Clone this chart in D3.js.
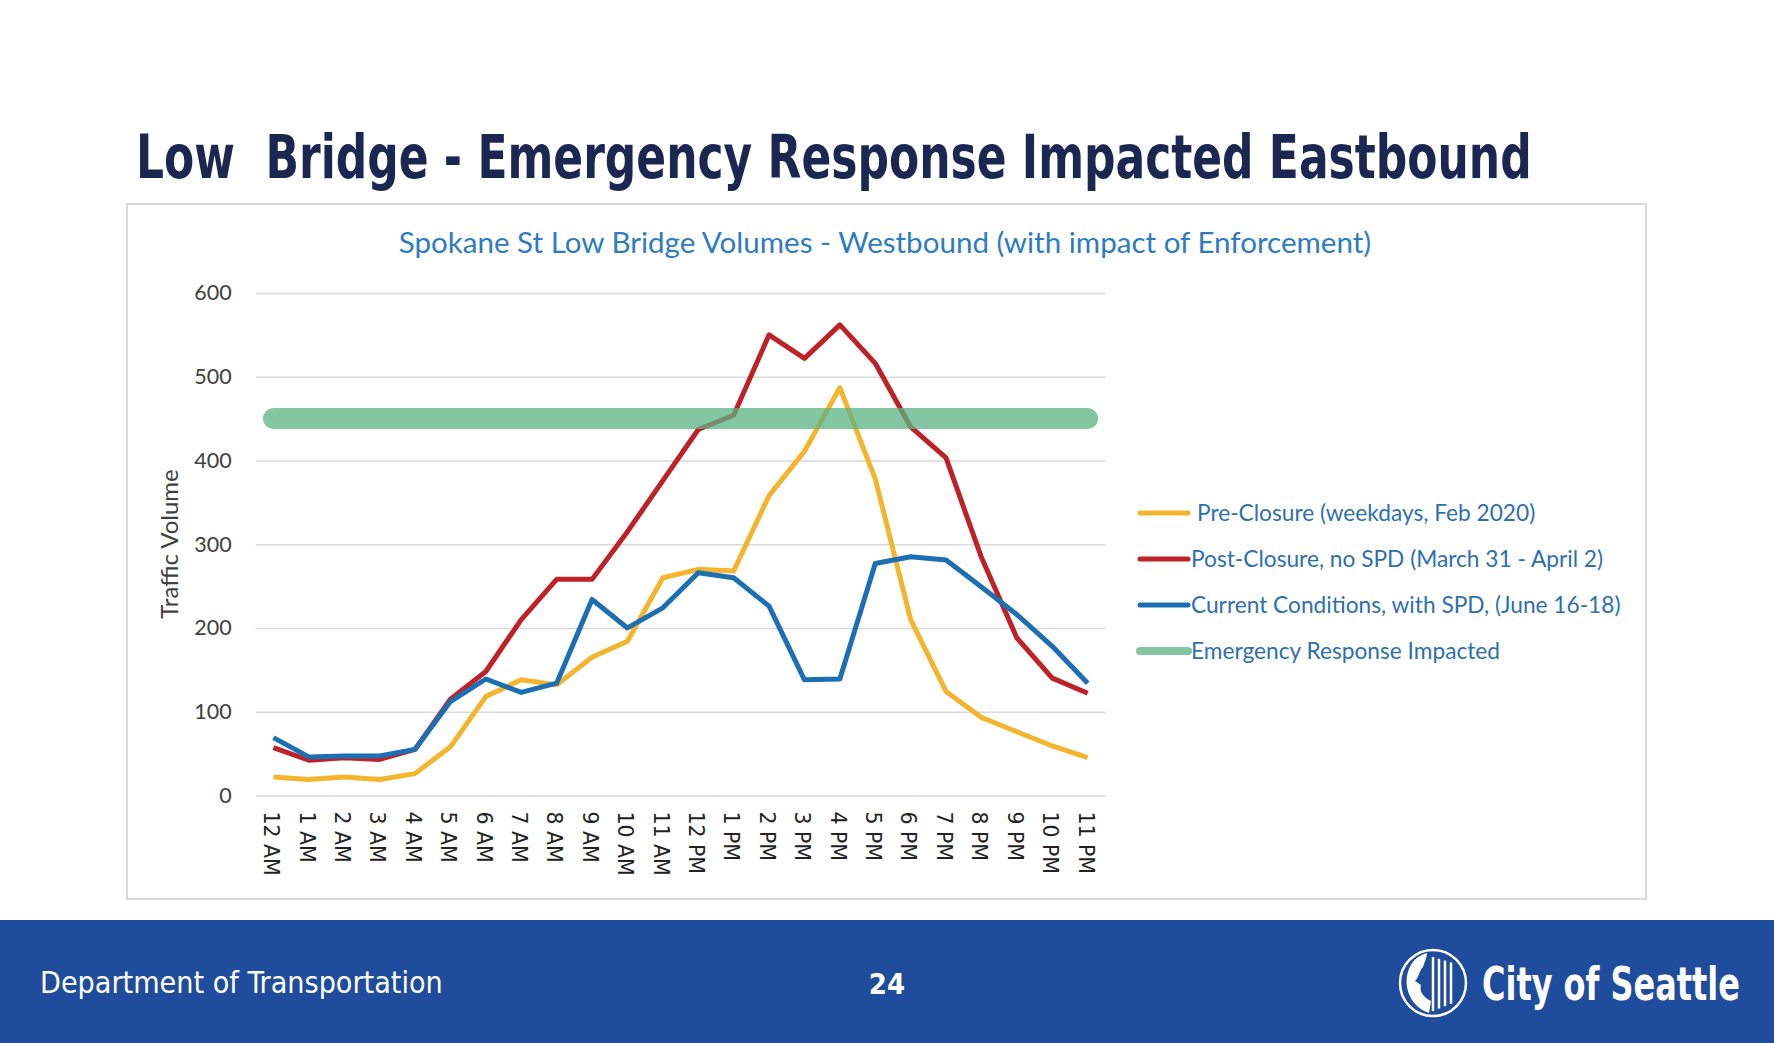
<!DOCTYPE html>
<html><head><meta charset="utf-8">
<script src="https://cdn.jsdelivr.net/npm/d3@7"></script>
<style>html,body{margin:0;padding:0;background:#fff;} svg{display:block;}</style>
</head><body>
<script>
const categories = ["12 AM","1 AM","2 AM","3 AM","4 AM","5 AM","6 AM","7 AM","8 AM","9 AM","10 AM","11 AM","12 PM","1 PM","2 PM","3 PM","4 PM","5 PM","6 PM","7 PM","8 PM","9 PM","10 PM","11 PM"];
const preClosure = [22,19,22,19,26,58,118,138,132,165,184,260,270,268,358,411,487,378,210,124,93,76,59,45];
const postClosure = [57,42,45,43,55,115,148,210,258,258,315,376,437,454,550,522,562,516,440,403,284,188,140,122];
const currentCond = [69,46,47,47,55,112,139,123,134,234,200,224,266,260,226,138,139,277,285,281,249,216,178,134];
const emergencyLevel = 450;
const yTicks = [0,100,200,300,400,500,600];
const seriesNames = ["Pre-Closure (weekdays, Feb 2020)","Post-Closure, no SPD (March 31 - April 2)","Current Conditions, with SPD, (June 16-18)","Emergency Response Impacted"];

(function(){
const W = 1774, H = 1043;
const svg = d3.select("body").append("svg").attr("width", W).attr("height", H);

function fit(sel, size, target){
  sel.attr("font-size", size);
  const len = sel.node().getComputedTextLength();
  if (len > 0) sel.attr("font-size", size * target / len);
  return sel;
}
// keep font height, squeeze horizontally to target width
function squeeze(sel, x0, y0, size, target){
  sel.attr("font-size", size).attr("x",0).attr("y",0);
  const len = sel.node().getComputedTextLength();
  const k = len > 0 ? Math.min(1, target/len) : 1;
  sel.attr("transform", `translate(${x0},${y0}) scale(${k},1)`);
  return sel;
}

// slide title
squeeze(svg.append("text")
  .style("white-space","pre")
  .attr("font-family","'DejaVu Sans Condensed','DejaVu Sans',sans-serif").attr("font-weight","bold")
  .attr("fill","#1b2750")
  .text("Low  Bridge - Emergency Response Impacted Eastbound"), 136, 178, 60, 1396);

// chart box
svg.append("rect").attr("x",127).attr("y",204).attr("width",1519).attr("height",695)
  .attr("fill","#fff").attr("stroke","#d9d9d9").attr("stroke-width",2);

// chart title
fit(svg.append("text").attr("x", 885).attr("y", 253).attr("text-anchor","middle")
  .attr("font-family","Lato, 'Open Sans', sans-serif").attr("fill","#2e7cc0")
  .text("Spokane St Low Bridge Volumes - Westbound (with impact of Enforcement)"), 27, 973);

const pLeft = 255.7, pRight = 1105.4, pTop = 293, pBottom = 795.4;
const x = d3.scaleBand().domain(categories).range([pLeft, pRight]);
const cx = d => x(d) + x.bandwidth()/2;
const y = d3.scaleLinear().domain([0,600]).range([pBottom, pTop]);

// gridlines
const yAxis = d3.axisLeft(y).tickValues(yTicks).tickSize(-(pRight-pLeft)).tickPadding(24);
const gy = svg.append("g").attr("transform",`translate(${pLeft},0)`).call(yAxis);
gy.select(".domain").remove();
gy.selectAll(".tick line").attr("stroke","#d9d9d9").attr("stroke-width",1.5);
gy.selectAll(".tick text").attr("font-family","Lato, 'Open Sans', sans-serif").attr("font-size",21.5).attr("fill","#404040").attr("x",-24);

// x axis labels
const xAxis = d3.axisBottom(x).tickSize(0).tickPadding(0);
const gx = svg.append("g").attr("transform",`translate(0,${pBottom})`).call(xAxis);
gx.select(".domain").remove();
gx.selectAll(".tick text")
  .attr("font-family","'DejaVu Sans', Verdana, sans-serif").attr("font-size",20.5).attr("fill","#222")
  .attr("text-anchor","start").attr("dy","0.35em")
  .attr("transform","translate(-2,16) rotate(90)").attr("x",0).attr("y",0);

// y axis title
svg.append("text").attr("transform",`translate(178,544) rotate(-90)`).attr("text-anchor","middle")
  .attr("font-family","Lato, 'Open Sans', sans-serif").attr("font-size",24).attr("fill","#404040")
  .text("Traffic Volume");

const line = d3.line().x((d,i)=>cx(categories[i])).y(d=>y(d));
const colors = ["#f3b52d","#be2228","#1d6fb3","#5cb383"];
[[preClosure,colors[0]],[postClosure,colors[1]],[currentCond,colors[2]]].forEach(([data,c])=>{
  svg.append("path").datum(data).attr("d",line).attr("fill","none")
    .attr("stroke",c).attr("stroke-width",5).attr("stroke-linejoin","round");
});
// emergency threshold band
svg.append("line")
  .attr("x1", cx(categories[0])).attr("x2", cx(categories[categories.length-1]))
  .attr("y1", y(emergencyLevel)).attr("y2", y(emergencyLevel))
  .attr("stroke",colors[3]).attr("stroke-opacity",0.75).attr("stroke-width",21).attr("stroke-linecap","round");

// legend
const legY = [513, 559, 605, 651];
seriesNames.forEach((n,i)=>{
  const g = svg.append("g");
  g.append("line").attr("x1",1140).attr("x2",1188).attr("y1",legY[i]).attr("y2",legY[i])
    .attr("stroke", i===3 ? "#85c6a2" : colors[i]).attr("stroke-width", i===3?8:5).attr("stroke-linecap","round");
  g.append("text").attr("x", i===0?1197:1191).attr("y",legY[i]).attr("dy","0.35em")
    .attr("font-family","Lato, 'Open Sans', sans-serif").attr("font-size",22.7).attr("fill","#2e6fae")
    .text(n);
});

// footer
svg.append("rect").attr("x",0).attr("y",920).attr("width",W).attr("height",H-920).attr("fill","#1f4c9c");
fit(svg.append("text").attr("x",40).attr("y",993)
  .attr("font-family","'DejaVu Sans Condensed','Open Sans',sans-serif").attr("fill","#fff")
  .text("Department of Transportation"), 30, 403);
svg.append("text").attr("x",887).attr("y",994).attr("text-anchor","middle")
  .attr("font-family","'DejaVu Sans Condensed','Open Sans',sans-serif").attr("font-weight","bold").attr("font-size",29).attr("fill","#fff")
  .text("24");
// logo
const lg = svg.append("g").attr("transform","translate(1433,983)");
lg.append("circle").attr("r",33).attr("fill","none").attr("stroke","#fff").attr("stroke-width",2.5);
lg.append("path").attr("d","M-6,-30 C-22,-26 -28,-10 -26,4 C-24,16 -16,26 -4,30 L-2,18 C-10,14 -14,8 -12,2 L-18,-2 C-14,-6 -14,-12 -10,-16 C-8,-22 -6,-26 -6,-30 Z").attr("fill","#fff");
[0,6,12,18].forEach(o=>lg.append("line").attr("x1",o).attr("x2",o).attr("y1",-26+o*0.3).attr("y2",28-o*0.4).attr("stroke","#fff").attr("stroke-width",2.5));
squeeze(svg.append("text")
  .attr("font-family","'DejaVu Sans Condensed','Open Sans',sans-serif").attr("font-weight","bold").attr("fill","#fff")
  .text("City of Seattle"), 1482, 1000, 46, 258);
})();
</script>
</body></html>
